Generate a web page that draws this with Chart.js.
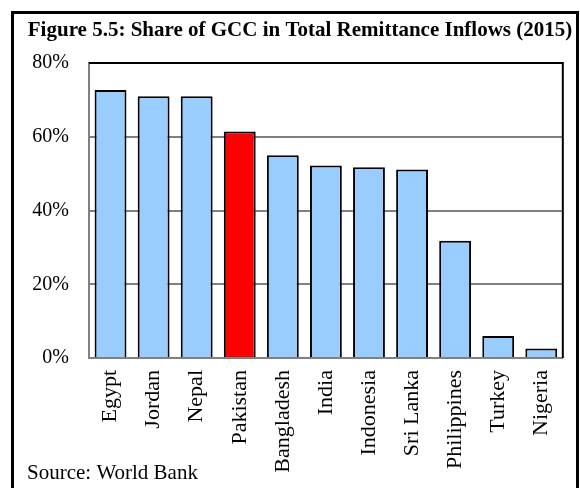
<!DOCTYPE html>
<html>
<head>
<meta charset="utf-8">
<script src="https://cdn.jsdelivr.net/npm/chart.js@4.4.1/dist/chart.umd.min.js"></script>
<style>
  html, body { margin: 0; padding: 0; background: #fff; }
  #wrap { position: relative; width: 580px; height: 488px; }
</style>
</head>
<body>
<div id="wrap"><canvas id="chart" width="580" height="488"></canvas></div>
<script>
// Share of GCC in total remittance inflows, 2015
const countries = ['Egypt', 'Jordan', 'Nepal', 'Pakistan', 'Bangladesh', 'India',
  'Indonesia', 'Sri Lanka', 'Philippines', 'Turkey', 'Nigeria'];
const gccShare = [72.7, 71.0, 71.0, 61.4, 55.0, 52.2, 51.7, 51.1, 31.8, 6.0, 2.6];
const highlight = 'Pakistan';
const yTicks = [0, 20, 40, 60, 80];

const TITLE = 'Figure 5.5: Share of GCC in Total Remittance Inflows (2015)';
const SOURCE = 'Source: World Bank';
const SERIF = '"Liberation Serif", "Times New Roman", serif';

// Frame, title, source and the black top/right edges of the plot box
const decorations = {
  id: 'decorations',
  afterDraw(chart) {
    const { ctx, chartArea } = chart;
    ctx.save();
    ctx.strokeStyle = '#000';
    ctx.lineWidth = 3;
    ctx.strokeRect(12.5, 12.5, 565, 520);

    ctx.lineWidth = 2;
    ctx.beginPath();
    ctx.moveTo(chartArea.left, chartArea.top);
    ctx.lineTo(chartArea.right, chartArea.top);
    ctx.lineTo(chartArea.right, chartArea.bottom);
    ctx.stroke();

    ctx.fillStyle = '#000';
    ctx.font = 'bold 21px ' + SERIF;
    ctx.textAlign = 'center';
    ctx.textBaseline = 'middle';
    ctx.fillText(TITLE, 300, 31);

    ctx.font = '21px ' + SERIF;
    ctx.textAlign = 'left';
    ctx.textBaseline = 'alphabetic';
    ctx.fillText(SOURCE, 27, 479);
    ctx.restore();
  }
};

new Chart(document.getElementById('chart'), {
  type: 'bar',
  data: {
    labels: countries,
    datasets: [{
      data: gccShare,
      backgroundColor: countries.map(c => c === highlight ? '#FF0000' : '#99CCFF'),
      borderColor: '#000',
      borderWidth: 2,
      borderSkipped: 'bottom',
      barPercentage: 0.74,
      categoryPercentage: 1.0
    }]
  },
  options: {
    responsive: false,
    animation: false,
    layout: { padding: { left: 0, right: 7, top: 63, bottom: 0 } },
    plugins: { legend: { display: false }, tooltip: { enabled: false }, title: { display: false } },
    scales: {
      x: {
        grid: { display: false, drawTicks: false },
        border: { color: '#808080', width: 2 },
        ticks: {
          color: '#000',
          font: { family: SERIF, size: 22 },
          minRotation: 90,
          maxRotation: 90,
          autoSkip: false,
          padding: 12
        },
        afterFit(scale) { scale.height = 130; }
      },
      y: {
        min: 0,
        max: 80,
        afterBuildTicks(scale) { scale.ticks = yTicks.map(v => ({ value: v })); },
        grid: { color: '#808080', lineWidth: 2, drawTicks: false },
        border: { color: '#808080', width: 2 },
        ticks: {
          color: '#000',
          font: { family: SERIF, size: 20 },
          padding: 20,
          callback: v => v + '%'
        },
        afterFit(scale) { scale.width = 89; }
      }
    }
  },
  plugins: [decorations]
});
</script>
</body>
</html>
